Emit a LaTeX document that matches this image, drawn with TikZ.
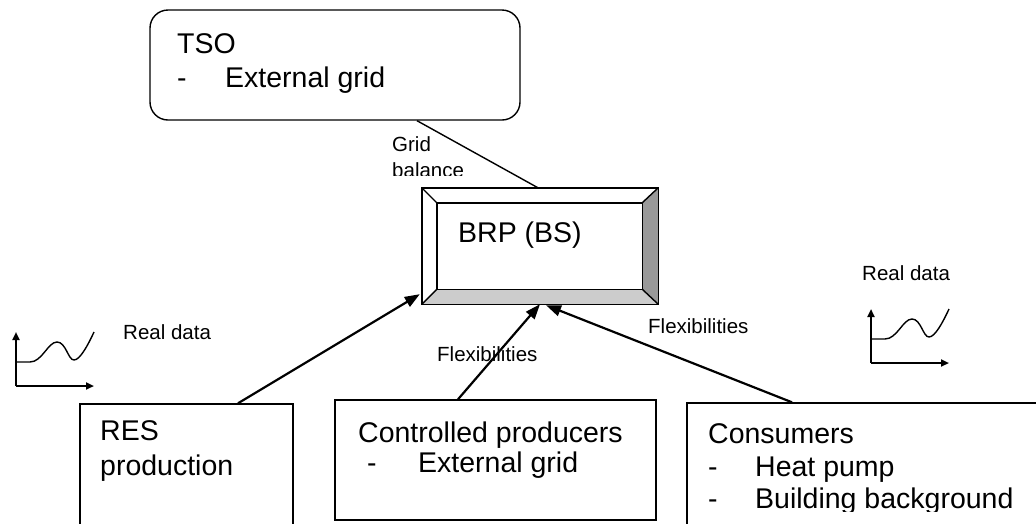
\documentclass[tikz,border=0pt]{standalone}
\usepackage{fontspec}
\setmainfont{Liberation Sans}
\usetikzlibrary{arrows.meta,calc}

\tikzset{
  bigtxt/.style={inner sep=0pt, anchor=base west, font=\fontsize{28.5}{33}\selectfont},
  smalltxt/.style={inner sep=0pt, anchor=base west, font=\fontsize{20.5}{24}\selectfont},
  plainbox/.style={draw=black, line width=1.4pt, rectangle, fill=white, inner sep=0pt},
  flow/.style={line width=2.2pt, -{Triangle[length=15pt,width=11pt]}},
  link/.style={line width=1.4pt},
  axis/.style={line width=2pt, -{Triangle[length=8pt,width=7pt]}},
  trend/.pic={
    \draw[axis] (0,54) -- (0,0);
    \draw[axis] (0,54) -- (78,54);
    \draw[line width=1.4pt] (0,30) -- (14,30)
      .. controls (26,30) and (32,10) .. (41,10)
      .. controls (50,10) and (52,28) .. (58,28)
      .. controls (64,28) and (72,13) .. (78,0);
  }
}

\begin{document}
\begin{tikzpicture}[x=1pt,y=-1pt]
  \clip (0,0) rectangle (1036,523);
  \fill[white] (0,0) rectangle (1036,523);

  % operator box at the top
  \node[plainbox, rounded corners=18pt, minimum width=370pt, minimum height=110pt] (tso) at (335,65) {};
  \node[bigtxt] (tsoT) at (177,53) {TSO};
  \node[bigtxt] (tsoD) at (177,87) {-};
  \node[bigtxt] (tsoG) at (225,87) {External grid};

  % balance responsible party, bevelled frame
  \node[rectangle, inner sep=0pt, minimum width=236pt, minimum height=116pt] (brp) at (540,246) {};
  \coordinate (iNW) at ([shift={(15pt,-15pt)}]brp.north west);
  \coordinate (iNE) at ([shift={(-16pt,-15pt)}]brp.north east);
  \coordinate (iSW) at ([shift={(15pt,15pt)}]brp.south west);
  \coordinate (iSE) at ([shift={(-16pt,15pt)}]brp.south east);
  \fill[white] (brp.north west) -- (brp.north east) -- (iNE) -- (iNW) -- cycle;
  \fill[white] (brp.north west) -- (iNW) -- (iSW) -- (brp.south west) -- cycle;
  \fill[black!40] (brp.north east) -- (brp.south east) -- (iSE) -- (iNE) -- cycle;
  \fill[black!20] (brp.south west) -- (iSW) -- (iSE) -- (brp.south east) -- cycle;
  \draw[link, line join=miter] (brp.north west) rectangle (brp.south east);
  \draw[link] (iNW) rectangle (iSE);
  \draw[link] (brp.north west) -- (iNW) (brp.north east) -- (iNE)
              (brp.south west) -- (iSW) (brp.south east) -- (iSE);
  \node[bigtxt] (brpT) at (458,242) {BRP (BS)};

  % lower boxes
  \node[plainbox, minimum width=213pt, minimum height=156pt] (res) at (186.5,482) {};
  \node[bigtxt] (resA) at (100,440) {RES};
  \node[bigtxt] (resB) at (100,475) {production};

  \node[plainbox, minimum width=321pt, minimum height=120pt] (ctl) at (495.5,460) {};
  \node[bigtxt] (ctlA) at (358,442) {Controlled producers};
  \node[bigtxt] (ctlD) at (367,472) {-};
  \node[bigtxt] (ctlB) at (418,472) {External grid};

  \node[plainbox, minimum width=373pt, minimum height=157pt] (con) at (873.5,481.5) {};
  \begin{scope}
    \clip (690,405) rectangle (1036,511.5);
    \node[bigtxt] (conA) at (708,443) {Consumers};
    \node[bigtxt] (conD1) at (708,476) {-};
    \node[bigtxt] (conB) at (755,476) {Heat pump};
    \node[bigtxt] (conD2) at (708,508.5) {-};
    \node[bigtxt] (conC) at (755,508.5) {Building background};
  \end{scope}

  % data sketches
  \pic at (16,332) {trend};
  \pic at (871,309) {trend};
  \node[smalltxt] (rdL) at (123,339) {Real data};
  \node[smalltxt] (rdR) at (862,280) {Real data};

  % labels on connectors
  \node[smalltxt] (flexR) at (648,333) {Flexibilities};
  \node[smalltxt] (flexM) at (437,361) {Flexibilities};
  \begin{scope}
    \clip (380,130) rectangle (500,175.5);
    \node[smalltxt] (gbA) at (392,151) {Grid};
    \node[smalltxt] (gbB) at (392,177) {balance};
  \end{scope}

  % connectors
  \draw[link] ([xshift=82pt]tso.south) -- ([xshift=-2pt]brp.north);
  \draw[flow] ([xshift=51.5pt]res.north) -- ([shift={(-2pt,10pt)}]brp.south west);
  \draw[flow] ([xshift=-37.5pt]ctl.north) -- (brp.south);
  \draw[flow] ([xshift=-81.5pt]con.north) -- ([shift={(6pt,-1pt)}]brp.south);
\end{tikzpicture}
\end{document}
